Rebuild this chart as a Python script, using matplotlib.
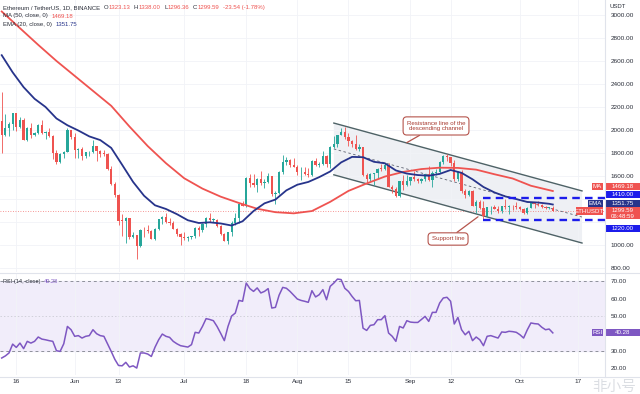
import matplotlib.pyplot as plt
from matplotlib.patches import Rectangle, Polygon
from matplotlib.lines import Line2D

plt.rcParams['font.family'] = ['Liberation Sans', 'DejaVu Sans']

# Daily ETH/USDT candles, 2022-05-12 .. 2022-10-10 (day index 0..151)
opens = [2080, 1960, 2014, 2056, 2145, 2023, 2090, 1914, 2018, 1960,
         1975, 2043, 1972, 1978, 1944, 1803, 1725, 1792, 1812, 1997,
         1942, 1823, 1833, 1776, 1805, 1806, 1859, 1813, 1793, 1790,
         1662, 1530, 1434, 1208, 1207, 1234, 1067, 1086, 994, 1128,
         1127, 1124, 1051, 1143, 1226, 1243, 1199, 1192, 1142, 1099,
         1067, 1060, 1068, 1074, 1150, 1134, 1186, 1237, 1216, 1217,
         1168, 1097, 1038, 1112, 1191, 1233, 1355, 1339, 1581, 1542,
         1521, 1576, 1536, 1551, 1596, 1440, 1450, 1637, 1725, 1737,
         1695, 1679, 1631, 1633, 1618, 1609, 1734, 1697, 1700, 1775,
         1702, 1850, 1880, 1958, 1981, 1936, 1901, 1876, 1834, 1849,
         1607, 1575, 1620, 1625, 1662, 1659, 1696, 1506, 1490, 1424,
         1553, 1524, 1553, 1587, 1577, 1556, 1577, 1616, 1561, 1629,
         1635, 1718, 1776, 1761, 1716, 1573, 1637, 1473, 1431, 1471,
         1335, 1377, 1324, 1252, 1327, 1329, 1317, 1294, 1336, 1330,
         1336, 1335, 1328, 1311, 1276, 1323, 1362, 1352, 1351, 1331,
         1322, 1323.13]
highs = [2330, 2140, 2070, 2150, 2150, 2110, 2100, 2030, 2060, 1985,
         2050, 2085, 1995, 2015, 1955, 1823, 1797, 1815, 2015, 2000,
         1970, 1842, 1850, 1810, 1820, 1915, 1860, 1830, 1825, 1800,
         1690, 1550, 1440, 1270, 1240, 1235, 1110, 1090, 1140, 1160,
         1175, 1130, 1145, 1230, 1250, 1280, 1235, 1210, 1145, 1105,
         1110, 1075, 1080, 1155, 1165, 1190, 1240, 1280, 1235, 1225,
         1170, 1100, 1115, 1205, 1280, 1355, 1385, 1590, 1620, 1620,
         1580, 1645, 1570, 1630, 1600, 1465, 1645, 1785, 1765, 1745,
         1755, 1695, 1680, 1680, 1665, 1740, 1760, 1725, 1815, 1785,
         1860, 1945, 1960, 2020, 2030, 1970, 1910, 1955, 1875, 1850,
         1625, 1630, 1625, 1670, 1705, 1710, 1710, 1520, 1500, 1560,
         1605, 1610, 1595, 1645, 1580, 1580, 1620, 1690, 1645, 1660,
         1730, 1785, 1790, 1765, 1735, 1645, 1650, 1490, 1480, 1475,
         1390, 1395, 1385, 1330, 1340, 1350, 1335, 1340, 1400, 1350,
         1345, 1375, 1335, 1320, 1330, 1370, 1365, 1380, 1360, 1335,
         1330, 1338.00]
lows = [1800, 1950, 1950, 2000, 1995, 2015, 1910, 1900, 1930, 1945,
        1965, 1965, 1925, 1935, 1750, 1700, 1710, 1760, 1805, 1925,
        1755, 1760, 1735, 1752, 1775, 1800, 1730, 1765, 1775, 1650,
        1520, 1420, 1170, 1075, 1015, 1050, 1060, 880, 980, 1065,
        1100, 1050, 1045, 1130, 1180, 1195, 1170, 1140, 1080, 1000,
        1040, 1035, 1050, 1060, 1080, 1115, 1160, 1200, 1200, 1160,
        1090, 1035, 1005, 1075, 1175, 1190, 1335, 1330, 1500, 1505,
        1460, 1520, 1495, 1540, 1425, 1355, 1440, 1620, 1695, 1680,
        1675, 1610, 1565, 1605, 1590, 1600, 1690, 1680, 1695, 1680,
        1665, 1845, 1855, 1955, 1920, 1860, 1850, 1825, 1820, 1600,
        1530, 1560, 1525, 1580, 1640, 1655, 1505, 1455, 1420, 1420,
        1475, 1515, 1520, 1555, 1540, 1540, 1555, 1560, 1500, 1605,
        1625, 1705, 1730, 1690, 1560, 1555, 1455, 1410, 1425, 1335,
        1280, 1310, 1220, 1245, 1265, 1315, 1280, 1275, 1315, 1265,
        1300, 1310, 1305, 1265, 1270, 1320, 1325, 1340, 1320, 1310,
        1310, 1296.36]
closes = [1960, 2014, 2056, 2145, 2023, 2090, 1914, 2018, 1960, 1975,
          2043, 1972, 1978, 1944, 1803, 1725, 1792, 1812, 1997, 1942,
          1823, 1833, 1776, 1805, 1806, 1859, 1813, 1793, 1790, 1662,
          1530, 1434, 1208, 1207, 1234, 1067, 1086, 994, 1128, 1127,
          1124, 1051, 1143, 1226, 1243, 1199, 1192, 1142, 1099, 1067,
          1060, 1068, 1074, 1150, 1134, 1186, 1237, 1216, 1217, 1168,
          1097, 1038, 1112, 1191, 1233, 1355, 1339, 1581, 1542, 1521,
          1576, 1536, 1551, 1596, 1440, 1450, 1637, 1725, 1737, 1695,
          1679, 1631, 1633, 1618, 1609, 1734, 1697, 1700, 1775, 1702,
          1850, 1880, 1958, 1981, 1936, 1901, 1876, 1834, 1849, 1607,
          1575, 1620, 1625, 1662, 1659, 1696, 1506, 1490, 1424, 1553,
          1524, 1553, 1587, 1577, 1556, 1577, 1616, 1561, 1629, 1635,
          1718, 1776, 1761, 1716, 1573, 1637, 1473, 1431, 1471, 1335,
          1377, 1324, 1252, 1327, 1329, 1317, 1294, 1336, 1330, 1336,
          1335, 1328, 1311, 1276, 1323, 1362, 1352, 1351, 1331, 1322,
          1323, 1299.59]

# moving averages
ma50_days = [0, 5, 10, 15, 20, 25, 30, 35, 40, 45, 50, 55, 60, 65, 70, 75,
             80, 85, 90, 95, 100, 105, 110, 115, 120, 125, 130, 135, 140, 145, 151]
ma50_vals = [3030, 2885, 2740, 2600, 2470, 2340, 2210, 2030, 1860, 1711, 1580,
             1490, 1420, 1365, 1315, 1285, 1275, 1295, 1375, 1470, 1535, 1595,
             1635, 1660, 1672, 1670, 1655, 1615, 1578, 1515, 1469.18]
ema20_days = [0, 3, 6, 9, 12, 15, 18, 21, 24, 27, 30, 33, 36, 39, 42, 45, 48,
              51, 54, 57, 60, 63, 66, 69, 72, 75, 78, 81, 84, 87, 90, 93, 96,
              99, 102, 105, 108, 111, 114, 117, 120, 123, 126, 129, 132, 135,
              138, 141, 144, 147, 150, 151]
ema20_vals = [2650, 2501, 2372, 2271, 2200, 2100, 2041, 1995, 1944, 1912, 1844,
              1697, 1548, 1428, 1345, 1313, 1268, 1215, 1191, 1197, 1187, 1169,
              1206, 1295, 1362, 1395, 1475, 1524, 1548, 1590, 1639, 1718, 1766,
              1763, 1723, 1710, 1648, 1621, 1608, 1602, 1618, 1652, 1627, 1571,
              1504, 1457, 1422, 1399, 1374, 1369, 1358, 1351.75]

rsi_vals = [25.8, 27, 28.7, 33.8, 31.9, 34.4, 31.2, 35.4, 34.4, 35.4,
            37.9, 36.7, 36.3, 35.8, 35.4, 30, 29.6, 34, 44, 42.1,
            38.3, 38.7, 37.3, 38.3, 38.7, 42.1, 39.8, 38.7, 38.3, 34,
            29.6, 25, 21.5, 21.3, 23.3, 20.6, 21.3, 20, 28.7, 28.7,
            28.1, 26.7, 32, 36.3, 39.6, 38.3, 37.7, 35.4, 34, 32.9,
            32.5, 32.1, 33.5, 40.6, 40.2, 44, 48.5, 48, 47.3, 44,
            40, 35.8, 44, 50, 51.7, 59, 58.5, 69, 65.8, 64.2,
            66.2, 63.3, 64.2, 65.8, 54.6, 55, 62, 66.5, 66, 64.2,
            62, 59.8, 59, 58.5, 57.9, 64.6, 61, 62.3, 65.2, 59.4,
            67.1, 69, 71.3, 71, 66, 64.2, 61.3, 58.8, 59, 43,
            41.7, 44.6, 45, 47.9, 47.9, 50.2, 40.2, 38.3, 35.4, 44,
            43.1, 47.3, 46.5, 46.3, 46.3, 48, 49.8, 46.9, 52.1, 52.1,
            57.5, 60.4, 60.8, 58.5, 45.4, 49.2, 42.1, 39.2, 41.2, 35.8,
            37.9, 36.3, 32.9, 38.3, 38.7, 38, 37.3, 40.8, 40.6, 41.2,
            41, 40.6, 39.2, 37.3, 42, 46, 45.6, 45.4, 43.5, 42.1,
            42.5, 40.28]

tick_days = [4, 20, 32, 50, 67, 81, 95, 112, 123, 142, 158]
tick_labels = ['16', 'Jun', '13', 'Jul', '18', 'Aug', '15', 'Sep', '12', 'Oct', '17']

# descending channel drawn on the chart (start / end day and price)
chan_days = [91, 159]
chan_upper = [2060, 1470]
chan_mid = [1835, 1243]
chan_lower = [1610, 1017]
zone_start = 132
zone_top, zone_bottom = 1410, 1220

UP, DOWN = '#26a69a', '#ef5350'
MA_RED, EMA_BLUE, RSI_PURPLE = '#ef5350', '#27348b', '#7e57c2'
ZONE_BLUE = '#1c1ceb'
TXT = '#2a2e39'

W, H = 640, 394
fig = plt.figure(figsize=(W / 100, H / 100), dpi=100)


def fx(px):
    return px / W


def fy(py):
    return 1 - py / H


ax = fig.add_axes([0, fy(272), fx(605), 272 / H])
rax = fig.add_axes([0, fy(375), fx(605), 102 / H])
x_lo, x_hi = -0.47, 165.3

# ---- price pane ----
days = list(range(len(closes)))
cols = [UP if c >= o else DOWN for o, c in zip(opens, closes)]
ax.vlines(days, lows, highs, colors=cols, lw=0.6, zorder=4)
ax.bar(days, [max(abs(c - o), 6) for o, c in zip(opens, closes)],
       bottom=[min(o, c) for o, c in zip(opens, closes)],
       width=0.62, color=cols, lw=0, zorder=5)

# channel
ax.add_patch(Polygon([(chan_days[0], chan_upper[0]), (chan_days[1], chan_upper[1]),
                      (chan_days[1], chan_lower[1]), (chan_days[0], chan_lower[0])],
                     closed=True, fc='#eef0f4', ec='none', zorder=1))
ax.plot(chan_days, chan_upper, color='#4e6266', lw=1.0, zorder=3)
ax.plot(chan_days, chan_lower, color='#4e6266', lw=1.0, zorder=3)
ax.plot(chan_days, chan_mid, color='#5d6270', lw=0.6, ls=(0, (3, 3)), zorder=3)

ax.plot(ma50_days, ma50_vals, color=MA_RED, lw=1.3, zorder=6)
ax.plot(ema20_days, ema20_vals, color=EMA_BLUE, lw=1.3, zorder=6)

ax.axhline(closes[-1], color=DOWN, lw=0.6, ls=(0, (1, 2)), alpha=0.8, zorder=2)
ax.hlines([zone_top, zone_bottom], zone_start, x_hi, colors=ZONE_BLUE, lw=1.7,
          linestyles=(0, (3.2, 2.2)), zorder=7)

# callouts
box = dict(boxstyle='round,pad=0.6', fc='white', ec='#b5544c', lw=0.8)
arrow = dict(arrowstyle='-', color='#b5544c', lw=0.9, shrinkA=0, shrinkB=0)
ax.annotate('Resistance line of the\ndescending channel', xy=(111, 1890), xytext=(119, 2035),
            fontsize=4.4, color='#a8392f', ha='center', va='center', bbox=box,
            arrowprops=arrow, zorder=9)
ax.annotate('Support line', xy=(130.5, 1245), xytext=(122.3, 1052),
            fontsize=4.4, color='#a8392f', ha='center', va='center', bbox=box,
            arrowprops=arrow, zorder=9)

ax.set_xlim(x_lo, x_hi)
ax.set_ylim(765, 3130)
price_ticks = list(range(800, 3001, 200))
ax.set_yticks(price_ticks, ['' if t in (1200, 1400) else f'{t:.2f}' for t in price_ticks])
ax.yaxis.tick_right()
ax.set_xticks(tick_days)
ax.tick_params(axis='both', length=0, labelbottom=False, labelsize=4.6, colors=TXT, pad=4)
ax.grid(True, color='#f1f3f7', lw=0.6, zorder=0)
for s in ax.spines.values():
    s.set_visible(False)

# ---- RSI pane ----
rax.axhspan(30, 70, color='#f1edfa', zorder=0)
rax.axhline(70, color='#8e919b', lw=0.7, ls=(0, (3, 3)), zorder=1)
rax.axhline(30, color='#8e919b', lw=0.7, ls=(0, (3, 3)), zorder=1)
rax.axhline(50, color='#c3c4cc', lw=0.5, ls=(0, (2, 3)), zorder=1)
rax.plot(days, rsi_vals, color=RSI_PURPLE, lw=1.1, zorder=3)
rax.set_xlim(x_lo, x_hi)
rax.set_ylim(16, 74.8)
rsi_ticks = [20, 30, 40, 50, 60, 70]
rax.set_yticks(rsi_ticks, ['' if t == 40 else f'{t:.2f}' for t in rsi_ticks])
rax.yaxis.tick_right()
rax.set_xticks(tick_days, tick_labels)
rax.tick_params(axis='both', length=0, labelsize=4.6, colors=TXT, pad=4)
rax.tick_params(axis='x', pad=3)
rax.grid(True, axis='x', color='#f1f3f7', lw=0.6, zorder=0)
for s in rax.spines.values():
    s.set_visible(False)


# ---- price-scale badges ----
def badge(a, x0, x1, yval, dy_px, h_px, fc):
    lo, hi = a.get_ylim()
    per_px = (hi - lo) / (a.get_position().height * H)
    yc = yval + dy_px * per_px
    a.add_patch(Rectangle((x0 / 605, yc - h_px * per_px / 2), (x1 - x0) / 605, h_px * per_px,
                          transform=a.get_yaxis_transform(), fc=fc, ec='none',
                          clip_on=False, zorder=20))
    return yc, per_px


def badge_text(a, x0, x1, y, text):
    a.text((x0 + x1) / 2 / 605, y, text, transform=a.get_yaxis_transform(), color='white',
           fontsize=4.4, ha='center', va='center', clip_on=False, zorder=21)


ma_last, ema_last, last = ma50_vals[-1], ema20_vals[-1], closes[-1]

yc, _ = badge(ax, 592, 603, ma_last, 5, 7, MA_RED)
badge_text(ax, 592, 603, yc, 'MA')
badge(ax, 605, 640, ma_last, 5, 7, MA_RED)
badge_text(ax, 605, 640, yc, f'{ma_last:.2f}')

yc, _ = badge(ax, 605, 640, zone_top, 3, 7, ZONE_BLUE)
badge_text(ax, 605, 640, yc, f'{zone_top:.2f}')

yc, _ = badge(ax, 588, 603, ema_last, 1.5, 7, EMA_BLUE)
badge_text(ax, 588, 603, yc, 'EMA')
badge(ax, 605, 640, ema_last, 1.5, 7, EMA_BLUE)
badge_text(ax, 605, 640, yc, f'{ema_last:.2f}')

yc, _ = badge(ax, 576, 603, last, -0.5, 8, DOWN)
badge_text(ax, 576, 603, yc, 'ETHUSDT')
yc, per_px = badge(ax, 605, 640, last, -2.5, 12, DOWN)
badge_text(ax, 605, 640, last, f'{last:.2f}')
badge_text(ax, 605, 640, last - 6 * per_px, '06:48:59')

yc, _ = badge(ax, 605, 640, zone_bottom, -8.7, 7, ZONE_BLUE)
badge_text(ax, 605, 640, yc, f'{zone_bottom:.2f}')

rsi_last = rsi_vals[-1]
yc, _ = badge(rax, 592, 603, rsi_last, 0, 7, RSI_PURPLE)
badge_text(rax, 592, 603, yc, 'RSI')
badge(rax, 605, 640, rsi_last, 0, 7, RSI_PURPLE)
badge_text(rax, 605, 640, yc, f'{rsi_last:.2f}')

# ---- separators ----
for line in [Line2D([fx(605), fx(605)], [fy(0), fy(377)]),
             Line2D([0, 1], [fy(273), fy(273)]),
             Line2D([0, 1], [fy(377), fy(377)])]:
    line.set_color('#e0e3eb')
    line.set_linewidth(0.8)
    fig.add_artist(line)


# ---- header texts: pieces chained one after another ----
def text_row(a, x_px, y_px, pieces, fs):
    prev = a.text(fx(x_px), fy(y_px), pieces[0][0], transform=fig.transFigure,
                  fontsize=fs, color=pieces[0][1], va='baseline', zorder=30)
    for txt, col, gap in pieces[1:]:
        prev = a.annotate(txt, xy=(1, 0), xycoords=prev, xytext=(gap, 0),
                          textcoords='offset points', fontsize=fs, color=col,
                          va='bottom', annotation_clip=False, zorder=30)


fs = 4.3
text_row(ax, 3, 9, [('Ethereum / TetherUS, 1D, BINANCE', TXT),
                    ('O', TXT, 2.5), ('1323.13', DOWN, 0.3),
                    ('H', TXT, 2.5), ('1338.00', DOWN, 0.3),
                    ('L', TXT, 2.5), ('1296.36', DOWN, 0.3),
                    ('C', TXT, 2.5), ('1299.59', DOWN, 0.3),
                    ('-23.54 (-1.78%)', DOWN, 2.5)], fs)
text_row(ax, 3, 17.5, [('MA (50, close, 0)', TXT), (f'{ma_last:.2f}', MA_RED, 2.5)], fs)
text_row(ax, 3, 26, [('EMA (20, close, 0)', TXT), (f'{ema_last:.2f}', EMA_BLUE, 2.5)], fs)
text_row(rax, 3, 283, [('RSI (14, close)', TXT), (f'{rsi_last:.2f}', RSI_PURPLE, 2.5)], 4.1)
fig.text(fx(610), fy(7), 'USDT', fontsize=fs, color=TXT, va='center')

# watermark
fig.text(fx(614), fy(387), '非小号', fontsize=10.5, color='#d3d6dc', alpha=0.8,
         family=['Noto Sans CJK SC', 'DejaVu Sans'], ha='center', va='center')

fig.savefig('out.png', dpi=100)
